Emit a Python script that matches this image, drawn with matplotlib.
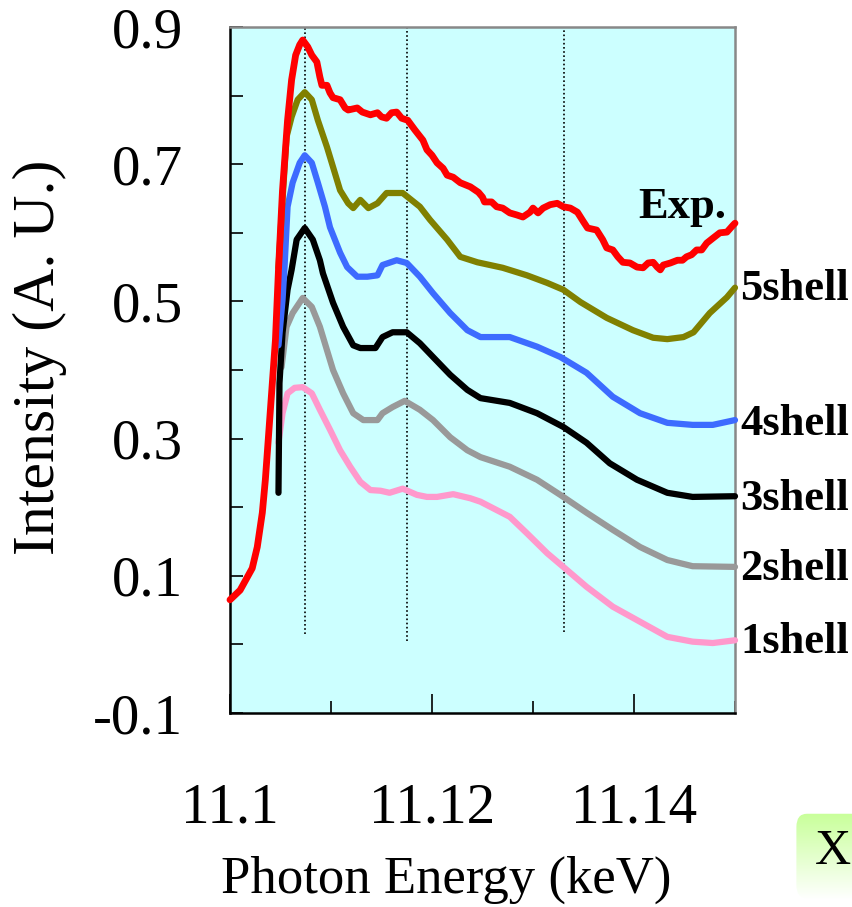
import numpy as np
import matplotlib
matplotlib.use("Agg")
import matplotlib.pyplot as plt
from matplotlib.patches import FancyBboxPatch
from matplotlib.ticker import FixedLocator

plt.rcParams['font.family'] = ['Liberation Serif', 'DejaVu Serif']

# ---- spectra (photon energy in keV, intensity in arbitrary units) ----
exp_x = [11.1000, 11.1010, 11.1022, 11.1027, 11.1032, 11.1035, 11.1040, 11.1045, 11.1048,
         11.1052, 11.1057, 11.1061, 11.1065, 11.1069, 11.1072, 11.1077, 11.1081, 11.1086,
         11.1089, 11.1091, 11.1096, 11.1099, 11.1102, 11.1109, 11.1114, 11.1117, 11.1126,
         11.1131, 11.1139, 11.1146, 11.1150, 11.1155, 11.1160, 11.1165, 11.1170, 11.1176,
         11.1183, 11.1191, 11.1195, 11.1200, 11.1205, 11.1211, 11.1215, 11.1221, 11.1228,
         11.1238, 11.1246, 11.1250, 11.1252, 11.1259, 11.1264, 11.1270, 11.1277, 11.1284,
         11.1290, 11.1297, 11.1300, 11.1305, 11.1310, 11.1317, 11.1324, 11.1330, 11.1337,
         11.1344, 11.1350, 11.1354, 11.1363, 11.1369, 11.1373, 11.1379, 11.1384, 11.1389,
         11.1396, 11.1403, 11.1409, 11.1414, 11.1419, 11.1423, 11.1426, 11.1429, 11.1436,
         11.1443, 11.1448, 11.1452, 11.1457, 11.1462, 11.1467, 11.1472, 11.1478, 11.1485,
         11.1492, 11.1498, 11.1500]
exp_y = [0.065, 0.079, 0.111, 0.142, 0.192, 0.240, 0.342, 0.444, 0.546,
         0.662, 0.764, 0.823, 0.859, 0.874, 0.881, 0.871, 0.859, 0.849,
         0.827, 0.815, 0.815, 0.804, 0.797, 0.794, 0.782, 0.779, 0.782,
         0.776, 0.772, 0.775, 0.769, 0.767, 0.775, 0.776, 0.767, 0.764,
         0.750, 0.735, 0.721, 0.713, 0.702, 0.694, 0.684, 0.681, 0.673,
         0.667, 0.659, 0.652, 0.645, 0.645, 0.638, 0.636, 0.629, 0.626,
         0.623, 0.630, 0.636, 0.629, 0.636, 0.641, 0.643, 0.638, 0.636,
         0.630, 0.616, 0.607, 0.604, 0.590, 0.578, 0.575, 0.565, 0.557,
         0.556, 0.550, 0.549, 0.556, 0.557, 0.550, 0.546, 0.553, 0.556,
         0.560, 0.560, 0.565, 0.568, 0.575, 0.575, 0.585, 0.592, 0.600,
         0.601, 0.611, 0.614]

shell5_x = [11.1048, 11.1052, 11.1056, 11.1061, 11.1067, 11.1074, 11.1081, 11.1087, 11.1096,
            11.1102, 11.1109, 11.1117, 11.1122, 11.1129, 11.1137, 11.1146, 11.1155, 11.1171,
            11.1188, 11.1198, 11.1215, 11.1228, 11.1245, 11.1270, 11.1294, 11.1314, 11.1330,
            11.1347, 11.1373, 11.1399, 11.1419, 11.1433, 11.1449, 11.1459, 11.1475, 11.1492,
            11.1500]
shell5_y = [0.549, 0.648, 0.740, 0.769, 0.794, 0.805, 0.794, 0.764, 0.725,
            0.696, 0.662, 0.643, 0.636, 0.648, 0.636, 0.643, 0.658, 0.658,
            0.638, 0.619, 0.590, 0.565, 0.557, 0.549, 0.538, 0.527, 0.517,
            0.499, 0.476, 0.458, 0.447, 0.445, 0.448, 0.455, 0.483, 0.506,
            0.520]

shell4_x = [11.1048, 11.1052, 11.1054, 11.1057, 11.1062, 11.1069, 11.1074, 11.1081, 11.1087,
            11.1094, 11.1099, 11.1109, 11.1116, 11.1126, 11.1136, 11.1146, 11.1151, 11.1165,
            11.1175, 11.1188, 11.1201, 11.1218, 11.1235, 11.1248, 11.1277, 11.1304, 11.1327,
            11.1353, 11.1379, 11.1406, 11.1433, 11.1458, 11.1478, 11.1500]
shell4_y = [0.436, 0.502, 0.550, 0.638, 0.673, 0.702, 0.713, 0.702, 0.673,
            0.638, 0.608, 0.571, 0.550, 0.536, 0.536, 0.538, 0.553, 0.560,
            0.556, 0.536, 0.512, 0.483, 0.458, 0.448, 0.448, 0.434, 0.419,
            0.396, 0.361, 0.337, 0.323, 0.320, 0.320, 0.327]

shell3_x = [11.1048, 11.1049, 11.1052, 11.1057, 11.1061, 11.1066, 11.1074, 11.1082, 11.1089,
            11.1092, 11.1102, 11.1112, 11.1122, 11.1129, 11.1144, 11.1151, 11.1161, 11.1175,
            11.1188, 11.1201, 11.1218, 11.1235, 11.1248, 11.1277, 11.1304, 11.1330, 11.1353,
            11.1376, 11.1403, 11.1433, 11.1458, 11.1500]
shell3_y = [0.221, 0.381, 0.454, 0.517, 0.546, 0.590, 0.607, 0.590, 0.560,
            0.541, 0.498, 0.463, 0.436, 0.432, 0.432, 0.448, 0.455, 0.455,
            0.439, 0.419, 0.393, 0.371, 0.359, 0.352, 0.337, 0.317, 0.294,
            0.264, 0.240, 0.221, 0.215, 0.216]

shell2_x = [11.1051, 11.1056, 11.1062, 11.1072, 11.1081, 11.1089, 11.1096, 11.1102, 11.1112,
            11.1122, 11.1132, 11.1146, 11.1151, 11.1161, 11.1173, 11.1188, 11.1201, 11.1218,
            11.1235, 11.1248, 11.1277, 11.1304, 11.1327, 11.1353, 11.1379, 11.1406, 11.1433,
            11.1458, 11.1500]
shell2_y = [0.404, 0.463, 0.483, 0.505, 0.492, 0.463, 0.429, 0.400, 0.366,
            0.337, 0.327, 0.327, 0.337, 0.346, 0.355, 0.342, 0.327, 0.302,
            0.283, 0.273, 0.259, 0.240, 0.218, 0.192, 0.167, 0.142, 0.123,
            0.114, 0.113]

shell1_x = [11.1048, 11.1052, 11.1057, 11.1064, 11.1072, 11.1081, 11.1089, 11.1099, 11.1109,
            11.1119, 11.1129, 11.1139, 11.1149, 11.1158, 11.1171, 11.1185, 11.1195, 11.1205,
            11.1221, 11.1238, 11.1248, 11.1277, 11.1294, 11.1314, 11.1330, 11.1353, 11.1379,
            11.1406, 11.1433, 11.1458, 11.1478, 11.1500]
shell1_y = [0.294, 0.337, 0.366, 0.374, 0.375, 0.366, 0.342, 0.313, 0.283,
            0.259, 0.237, 0.225, 0.224, 0.221, 0.227, 0.218, 0.215, 0.215,
            0.219, 0.213, 0.208, 0.186, 0.162, 0.133, 0.113, 0.084, 0.055,
            0.033, 0.011, 0.004, 0.002, 0.006]

# reference energies marked with dotted guides (x, lower end)
guide_x = [11.1074, 11.1175, 11.1331]
guide_ymin = [0.015, 0.005, 0.018]

# curve annotations: text, x, y (baseline)
labels = ["Exp.", "5shell", "4shell", "3shell", "2shell", "1shell"]
label_x = [11.1404, 11.1505, 11.1505, 11.1505, 11.1505, 11.1505]
label_y = [0.622, 0.502, 0.305, 0.196, 0.094, -0.0125]

y_ticks = [-0.1, 0.0, 0.1, 0.2, 0.3, 0.4, 0.5, 0.6, 0.7, 0.8, 0.9]
y_ticklabels = ["-0.1", "", "0.1", "", "0.3", "", "0.5", "", "0.7", "", "0.9"]
x_major = [11.10, 11.12, 11.14]
x_major_labels = ["11.1", "11.12", "11.14"]
x_minor = [11.11, 11.13, 11.15]

W, H = 853, 907
fig = plt.figure(figsize=(W / 100, H / 100), dpi=100)
ax = fig.add_axes([230 / W, 1 - 713 / H, 505 / W, 686 / H])
ax.set_facecolor('#ccffff')

series = [
    (shell1_x, shell1_y, '#ff99cc', 4.5),
    (shell2_x, shell2_y, '#999999', 4.5),
    (shell3_x, shell3_y, '#000000', 4.5),
    (shell4_x, shell4_y, '#3d6bff', 4.5),
    (shell5_x, shell5_y, '#808000', 4.5),
    (exp_x, exp_y, '#ff0000', 4.9),
]
for gx, gmin in zip(guide_x, guide_ymin):
    ax.plot([gx, gx], [gmin, 0.9], color='black', lw=1.2, ls=(0, (1, 1.5)), zorder=1)
for xs, ys, c, w in series:
    ax.plot(xs, ys, color=c, lw=w, solid_capstyle='round', solid_joinstyle='round',
            zorder=3, clip_on=False)

for t, lx, ly in zip(labels, label_x, label_y):
    ax.text(lx, ly, t, fontsize=32, fontweight='bold', ha='left', va='baseline',
            clip_on=False, color='black')

ax.set_xlim(11.1, 11.15)
ax.set_ylim(-0.1, 0.9)

ax.set_yticks(y_ticks)
ax.set_yticklabels(y_ticklabels)
ax.set_xticks(x_major)
ax.set_xticklabels(x_major_labels)
ax.xaxis.set_minor_locator(FixedLocator(x_minor))

ax.tick_params(axis='y', direction='in', length=9, width=1.2, labelsize=41, pad=34,
               right=False, colors='black')
ax.tick_params(axis='x', which='major', direction='in', length=14, width=1.2,
               labelsize=41, pad=50, top=False)
ax.tick_params(axis='x', which='minor', direction='in', length=9, width=1.2, top=False)

for side in ['left', 'bottom']:
    ax.spines[side].set_color('black')
    ax.spines[side].set_linewidth(1.8)
for side in ['top', 'right']:
    ax.spines[side].set_color('#888888')
    ax.spines[side].set_linewidth(1.8)

fig.text(446 / W, 1 - 880 / H, "Photon Energy (keV)", fontsize=38, ha='center', va='center')
fig.text(40 / W, 1 - 357 / H, "Intensity (A. U.)", fontsize=43, ha='center', va='center',
         rotation=90)

# green rounded tab in the lower right corner
tab = fig.add_axes([795 / W, 1 - 900 / H, 70 / W, 88 / H])
grad = np.linspace(0, 1, 100)[:, None]
cmap = matplotlib.colors.LinearSegmentedColormap.from_list('tab', ['#c8ff99', '#ffffff'])
im = tab.imshow(grad, aspect='auto', cmap=cmap, extent=[0, 1, 1, 0])
clip = FancyBboxPatch((0.02, 0.02), 1.2, 0.96, boxstyle='round,pad=0,rounding_size=0.15',
                      transform=tab.transAxes, facecolor='none', edgecolor='none')
tab.add_patch(clip)
im.set_clip_path(clip)
tab.set_xlim(0, 1)
tab.set_ylim(1, 0)
tab.axis('off')
fig.text(833 / W, 1 - 852 / H, "X", fontsize=36, ha='center', va='center')

fig.savefig('out.png', dpi=100)
